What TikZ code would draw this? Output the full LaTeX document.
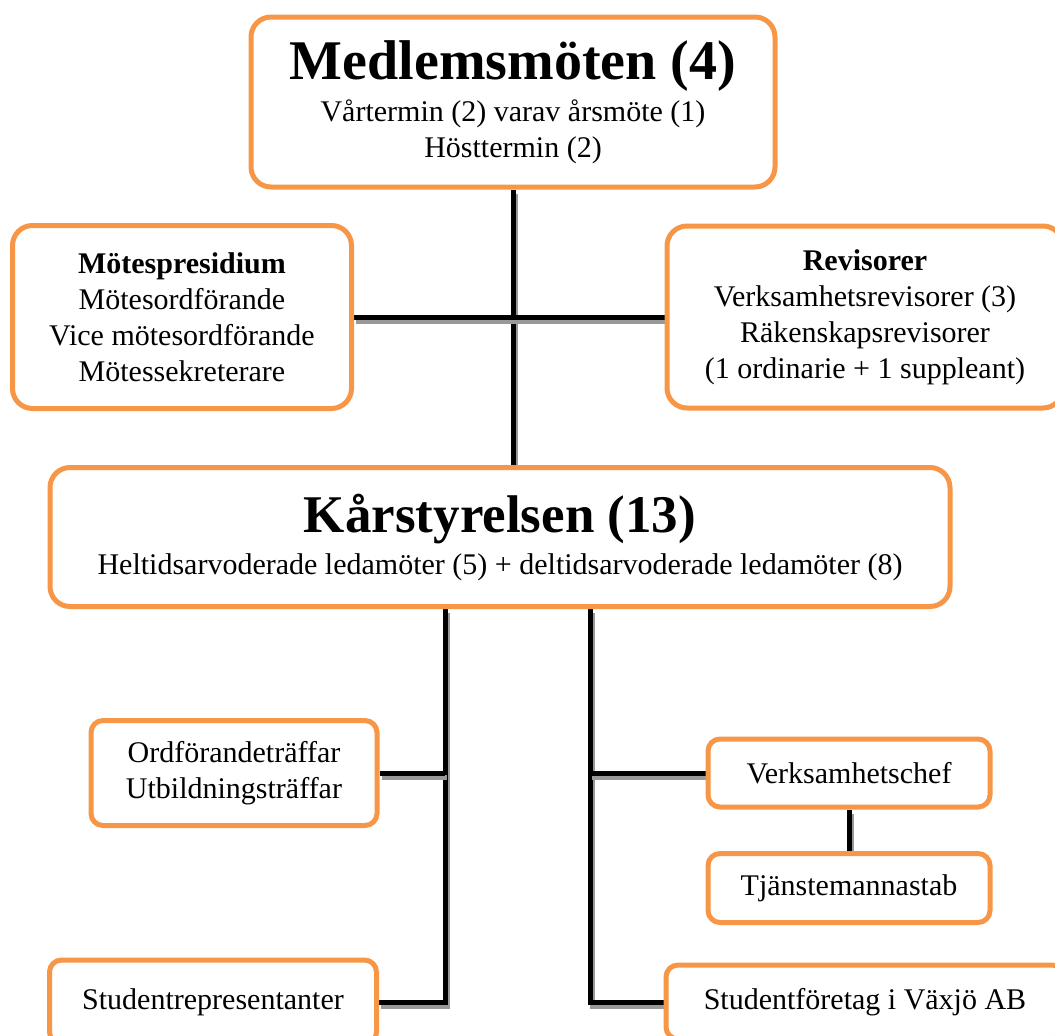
\documentclass[tikz,border=0pt]{standalone}
\usepackage{fontspec}
\setmainfont{Liberation Serif}
\usetikzlibrary{backgrounds}
\definecolor{boxorange}{HTML}{F79646}
\newcommand{\bodyfont}{\fontsize{30}{36}\selectfont}
\newcommand{\headfont}{\fontsize{56}{60}\selectfont\bfseries}
\tikzset{
  box/.style={draw=boxorange, line width=5pt, fill=white, rounded corners=20pt,
    inner sep=0pt, align=center, font=\bodyfont},
  smallbox/.style={box, rounded corners=12pt},
  link/.style={line width=5pt, line join=miter,
    preaction={draw=black!40, line width=5pt, transform canvas={xshift=2pt, yshift=-4pt}}}
}

\begin{document}
\begin{tikzpicture}[x=1pt, y=-1pt]
		%%%%% START %%%%%
		\useasboundingbox (0, 0) rectangle (1055, 1036);
		\clip (0, 0) rectangle (1055, 1036);
		
		\node[box, minimum width=524, minimum height=170] (mote) at (513, 102)
		  {{\headfont Medlemsmöten (4)}\\[6pt] Vårtermin (2) varav årsmöte (1)\\ Hösttermin (2)};
		
		\node[box, minimum width=339, minimum height=183] (pres) at (182, 317)
		  {\textbf{Mötespresidium}\\ Mötesordförande\\ Vice mötesordförande\\ Mötessekreterare};
		\node[box, minimum width=396, minimum height=182] (rev) at (865, 317)
		  {\textbf{Revisorer}\\ Verksamhetsrevisorer (3)\\ Räkenskapsrevisorer\\ (1 ordinarie + 1 suppleant)};
		
		\node[box, minimum width=900, minimum height=139] (kar) at (500, 537)
		  {{\headfont\fontsize{53}{58}\selectfont Kårstyrelsen (13)}\\[6pt] Heltidsarvoderade ledamöter (5) + deltidsarvoderade ledamöter (8)};
		
		\node[smallbox, minimum width=286, minimum height=105] (traff) at (234, 773)
		  {Ordförandeträffar\\ Utbildningsträffar};
		\node[smallbox, minimum width=327, minimum height=84] (stud) at (213, 1002)
		  {Studentrepresentanter};
		
		\node[smallbox, minimum width=282, minimum height=68] (chef) at (849, 773)
		  {Verksamhetschef};
		\node[smallbox, minimum width=282, minimum height=69] (stab) at (849, 888)
		  {Tjänstemannastab};
		\node[smallbox, minimum width=398, minimum height=74] (ab) at (865, 1002)
		  {Studentföretag i Växjö AB};
		
		\coordinate (lx) at (445, 0);
		\coordinate (rx) at (590, 0);
		
		\begin{pgfonlayer}{background}
		\draw[link] (mote.south) -- (mote.south |- kar.north);
		\draw[link] (pres.east) -- (rev.west);
		
		\draw[link] (kar.south -| lx) |- (stud.east);
		\draw[link] (traff.east) -- (traff.east -| lx);
		
		\draw[link] (kar.south -| rx) |- (ab.west);
		\draw[link] (chef.west) -- (chef.west -| rx);
		\draw[link] (chef.south) -- (stab.north);
		\end{pgfonlayer}
		%%%%% END %%%%%
	\end{tikzpicture}
\end{document}
